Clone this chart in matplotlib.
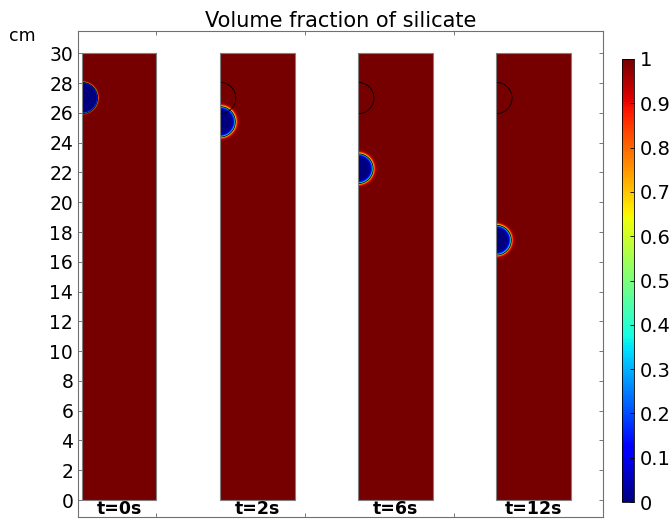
import numpy as np
import matplotlib
matplotlib.use("Agg")
import matplotlib.pyplot as plt
from matplotlib.patches import Rectangle, Arc
from matplotlib.colors import ListedColormap

# ---- data ----
time_labels = ["t=0s", "t=2s", "t=6s", "t=12s"]
bubble_y = [27.0, 25.4, 22.25, 17.45]      # bubble centre height (cm)
bubble_r = [1.05, 1.02, 1.0, 1.0]          # bubble radius (cm)
interface_w = [0.05, 0.12, 0.12, 0.12]     # interface thickness (cm)
initial_y = 27.0
initial_r = 1.05
column_width = 5.0
column_height = 30.0
yticks = list(range(0, 31, 2))
cbar_ticks = [0, 0.1, 0.2, 0.3, 0.4, 0.5, 0.6, 0.7, 0.8, 0.9, 1.0]
cbar_labels = ["0", "0.1", "0.2", "0.3", "0.4", "0.5", "0.6", "0.7", "0.8", "0.9", "1"]

spacing = 9.28
fig = plt.figure(figsize=(6.72, 5.25), dpi=100)
ax = fig.add_axes([78/672, 8/525, 525/672, 486/525])
ax.set_xlim(-0.27, 35.0)
ax.set_ylim(-1.14, 31.5)

base = plt.get_cmap("jet")(np.linspace(0, 1, 256))
# slightly darker red end, as in the reference
fade = np.clip((np.linspace(0, 1, 256) - 0.85) / 0.15, 0, 1)
base[:, 0] = base[:, 0] * (1 - 0.07 * fade)
cmap = ListedColormap(base)

xs = np.linspace(0, column_width, 260)
ys = np.linspace(0, column_height, 1500)
X, Y = np.meshgrid(xs, ys)
im = None
for i, lab in enumerate(time_labels):
    x0 = i * spacing
    r = np.sqrt(X**2 + (Y - bubble_y[i])**2)
    phi = 0.5 * (1 + np.tanh((r - bubble_r[i]) / interface_w[i]))
    im = ax.imshow(phi, extent=[x0, x0 + column_width, 0, column_height],
                   origin="lower", cmap=cmap, vmin=0, vmax=1,
                   interpolation="bilinear", aspect="auto", zorder=1)
    ax.contour(X + x0, Y, phi, levels=[0.5], colors="black", linewidths=0.6, zorder=2)
    if i > 0:
        ax.add_patch(Arc((x0, initial_y), 2*initial_r, 2*initial_r, theta1=-90, theta2=90,
                         color="black", lw=0.6, zorder=2))
    ax.add_patch(Rectangle((x0, 0), column_width, column_height, fill=False,
                           edgecolor="#808080", lw=0.8, zorder=3))
    ax.text(x0 + column_width/2, -0.62, lab, ha="center", va="center",
            fontsize=12.5, fontweight="bold")

ax.set_yticks(yticks)
ax.set_yticklabels([str(v) for v in yticks], fontsize=13.5)
ax.set_xticks([5, 15, 25])
ax.set_xticklabels([])
ax.tick_params(direction="in", length=3, width=0.6, color="#606060",
               top=True, right=True, pad=3.5)
for s in ax.spines.values():
    s.set_color("#707070")
    s.set_linewidth(0.8)

ax.set_title("Volume fraction of silicate", fontsize=15, pad=3)
fig.text(9/672, 1 - 36/525, "cm", fontsize=12.5, ha="left", va="center")

cax = fig.add_axes([622/672, 23/525, 12/672, 443/525])
cb = fig.colorbar(im, cax=cax, ticks=cbar_ticks)
cb.ax.set_yticklabels(cbar_labels, fontsize=14)
cb.ax.tick_params(direction="in", length=3, width=0.6, pad=4)
cb.outline.set_linewidth(0.6)

fig.savefig("out.png", dpi=100)
